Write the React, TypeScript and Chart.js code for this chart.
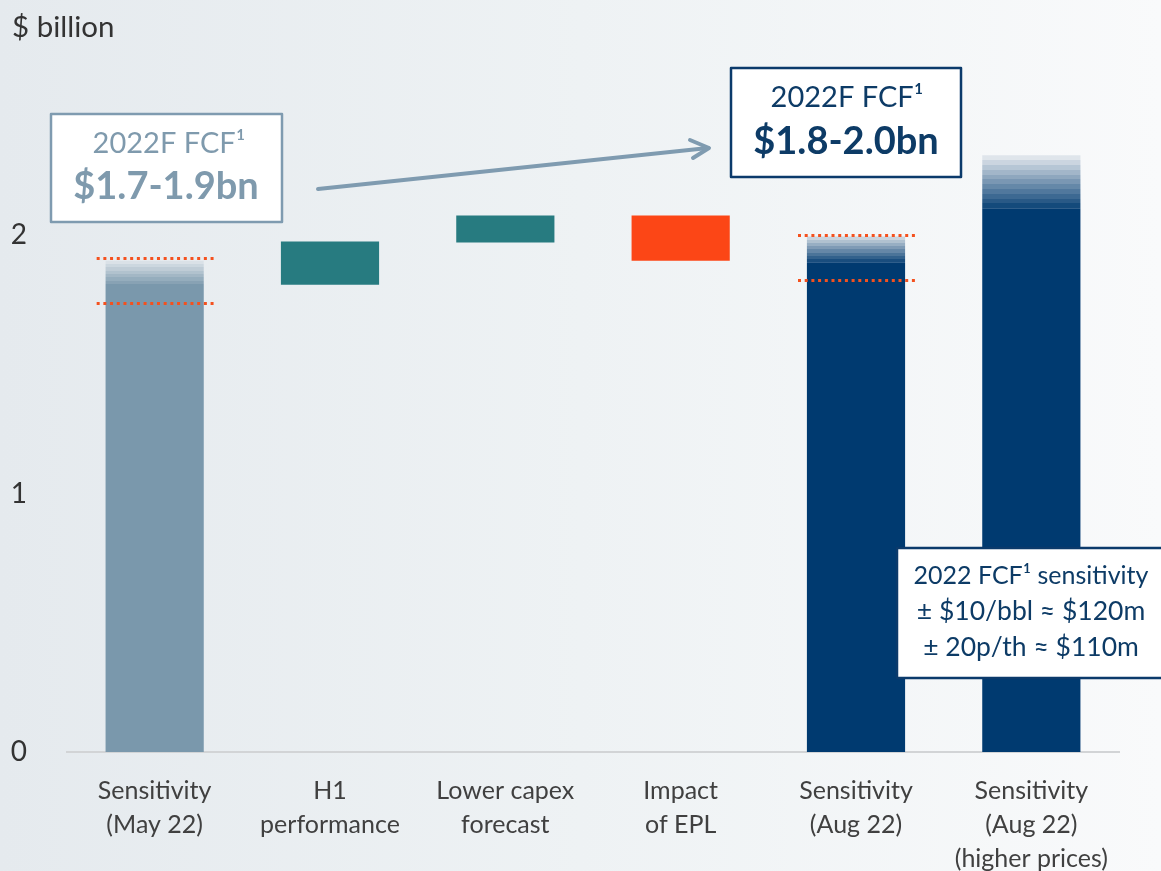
import React, { useEffect, useRef } from "react";
import { Chart, registerables } from "chart.js";

Chart.register(...registerables);

// ---- data ----
const categories: string[][] = [
  ["Sensitivity", "(May 22)"],
  ["H1", "performance"],
  ["Lower capex", "forecast"],
  ["Impact", "of EPL"],
  ["Sensitivity", "(Aug 22)"],
  ["Sensitivity", "(Aug 22)", "(higher prices)"],
];
const barLow: number[] = [0, 1.807, 1.971, 1.9, 0, 0];
const barHigh: number[] = [1.81, 1.975, 2.075, 2.075, 1.894, 2.103];
const fadeHigh: (number | null)[] = [1.9, null, null, null, 1.994, 2.308];
const rangeLow: (number | null)[] = [1.735, null, null, null, 1.824, null];
const rangeHigh: (number | null)[] = [1.912, null, null, null, 1.998, null];
const yTicks: number[] = [0, 1, 2];

const unitLabel = "$ billion";
const mayBoxTitle = "2022F FCF\u00b9";
const mayBoxValue = "$1.7-1.9bn";
const augBoxTitle = "2022F FCF\u00b9";
const augBoxValue = "$1.8-2.0bn";
const sensLines: string[] = [
  "2022 FCF\u00b9 sensitivity",
  "\u00b1 $10/bbl \u2248 $120m",
  "\u00b1 20p/th \u2248 $110m",
];

// ---- styles ----
const FONT = 'Lato, "Noto Sans", sans-serif';
const barColors = ["#7a98ac", "#277b80", "#277b80", "#fc4616", "#003a70", "#003a70"];
const fadeTop = ["#dae1e7", "", "", "", "#c9d4de", "#dfe5eb"];
const fadeSteps = [7, 0, 0, 0, 8, 11];
const GREYBLUE = "#7f9bb0";
const NAVY = "#0b3a6b";

function hexToRgb(h: string) {
  const v = parseInt(h.slice(1), 16);
  return [(v >> 16) & 255, (v >> 8) & 255, v & 255];
}
function lerpColor(a: string, b: string, t: number) {
  const ca = hexToRgb(a);
  const cb = hexToRgb(b);
  const c = ca.map((x, i) => Math.round(x + (cb[i] - x) * t));
  return `rgb(${c[0]},${c[1]},${c[2]})`;
}

const overlayPlugin = {
  id: "overlay",
  afterDatasetsDraw(chart: any) {
    const { ctx, scales } = chart;
    const x = scales.x;
    const y = scales.y;
    ctx.save();
    ctx.strokeStyle = "#f4511e";
    ctx.lineWidth = 3;
    ctx.setLineDash([3, 3.7]);
    for (let i = 0; i < categories.length; i++) {
      const cx = x.getPixelForValue(i);
      [rangeLow[i], rangeHigh[i]].forEach((v) => {
        if (v == null) return;
        const py = Math.round(y.getPixelForValue(v)) + 0.5;
        ctx.beginPath();
        ctx.moveTo(cx - 58, py);
        ctx.lineTo(cx + 59, py);
        ctx.stroke();
      });
    }
    ctx.restore();
  },
  afterDraw(chart: any) {
    const { ctx } = chart;
    ctx.save();
    ctx.fillStyle = "#333333";
    ctx.font = `29.5px ${FONT}`;
    ctx.textAlign = "left";
    ctx.textBaseline = "middle";
    ctx.fillText(unitLabel, 12, 27);

    // arrow
    ctx.strokeStyle = GREYBLUE;
    ctx.lineWidth = 4;
    ctx.lineCap = "round";
    ctx.lineJoin = "round";
    ctx.beginPath();
    ctx.moveTo(318, 189);
    ctx.lineTo(708, 148);
    ctx.stroke();
    ctx.beginPath();
    ctx.moveTo(690, 140);
    ctx.lineTo(709, 148);
    ctx.lineTo(693, 158);
    ctx.stroke();

    // box 1
    ctx.fillStyle = "#ffffff";
    ctx.fillRect(51, 114, 231, 108);
    ctx.strokeStyle = GREYBLUE;
    ctx.lineWidth = 2.5;
    ctx.strokeRect(51, 114, 231, 108);
    ctx.textAlign = "center";
    ctx.fillStyle = "#7f9aad";
    ctx.font = `29px ${FONT}`;
    ctx.fillText(mayBoxTitle, 169, 144);
    ctx.font = `bold 38px ${FONT}`;
    ctx.fillText(mayBoxValue, 166, 187);

    // box 2
    ctx.fillStyle = "#ffffff";
    ctx.fillRect(731, 68, 230, 109);
    ctx.strokeStyle = NAVY;
    ctx.lineWidth = 2.5;
    ctx.strokeRect(731, 68, 230, 109);
    ctx.fillStyle = "#0d3b66";
    ctx.font = `29px ${FONT}`;
    ctx.fillText(augBoxTitle, 847, 98);
    ctx.font = `bold 38px ${FONT}`;
    ctx.fillText(augBoxValue, 846, 142);

    // box 3
    ctx.fillStyle = "#ffffff";
    ctx.fillRect(897, 548, 270, 130);
    ctx.strokeStyle = NAVY;
    ctx.lineWidth = 2.5;
    ctx.strokeRect(897, 548, 270, 130);
    ctx.fillStyle = "#0d3b66";
    const ys = [576, 611, 647];
    const sizes = [25, 26.5, 26.5];
    sensLines.forEach((s, i) => {
      ctx.font = `${sizes[i]}px ${FONT}`;
      ctx.fillText(s, 1031, ys[i]);
    });
    ctx.restore();
  },
};

function fadeColor(c: any) {
  const i = c.dataIndex;
  if (typeof i !== "number" || fadeHigh[i] == null) return "#003a70";
  const chart = c.chart;
  const y = chart.scales && chart.scales.y;
  if (!y) return barColors[i];
  const bottom = y.getPixelForValue(barHigh[i]);
  const top = y.getPixelForValue(fadeHigh[i] as number);
  if (!isFinite(bottom) || !isFinite(top) || bottom === top) return barColors[i];
  const g = chart.ctx.createLinearGradient(0, bottom, 0, top);
  const n = fadeSteps[i];
  for (let k = 0; k < n; k++) {
    const col = lerpColor(barColors[i], fadeTop[i], (k + 1) / n);
    g.addColorStop(k / n, col);
    g.addColorStop((k + 1) / n, col);
  }
  return g;
}

export default function App() {
  const ref = useRef<HTMLCanvasElement | null>(null);
  useEffect(() => {
    if (!ref.current) return;
    const solid = categories.map((_, i) => [barLow[i], barHigh[i]]);
    const fade = categories.map((_, i) => (fadeHigh[i] == null ? null : [barHigh[i], fadeHigh[i] as number]));
    const chart = new Chart(ref.current, {
      type: "bar",
      data: {
        labels: categories,
        datasets: [
          {
            data: solid as any,
            backgroundColor: barColors,
            borderWidth: 0,
            grouped: false,
            barPercentage: 1,
            categoryPercentage: 0.56,
          },
          {
            data: fade as any,
            grouped: false,
            borderWidth: 0,
            barPercentage: 1,
            categoryPercentage: 0.56,
            backgroundColor: fadeColor as any,
          },
        ],
      },
      options: {
        animation: false,
        responsive: false,
        devicePixelRatio: 1,
        layout: { padding: { top: 29, right: 42, left: 0, bottom: 0 } },
        plugins: { legend: { display: false }, tooltip: { enabled: false } },
        scales: {
          x: {
            grid: { display: false },
            border: { display: true, color: "#d2d4d6", width: 2 },
            ticks: {
              color: "#404040",
              font: { family: FONT, size: 25, lineHeight: "34px" } as any,
              padding: 14,
              maxRotation: 0,
              autoSkip: false,
            },
            afterFit: (s: any) => {
              s.height = 119;
            },
          },
          y: {
            min: 0,
            max: 2.72,
            grid: { display: false },
            border: { display: false },
            ticks: {
              color: "#333333",
              font: { family: FONT, size: 28 },
              padding: 32,
            },
            afterBuildTicks: (s: any) => {
              s.ticks = yTicks.map((v) => ({ value: v }));
            },
            afterFit: (s: any) => {
              s.width = 67;
            },
          },
        },
      },
      plugins: [overlayPlugin],
    });
    return () => chart.destroy();
  }, []);
  return (
    <div
      style={{
        position: "fixed",
        left: 0,
        top: 0,
        width: 1161,
        height: 871,
        background: "linear-gradient(to right, #e5eaee 0%, #eef2f4 50%, #f9fafb 100%)",
        overflow: "hidden",
      }}
    >
      <canvas ref={ref} width={1161} height={871} style={{ display: "block" }} />
    </div>
  );
}
